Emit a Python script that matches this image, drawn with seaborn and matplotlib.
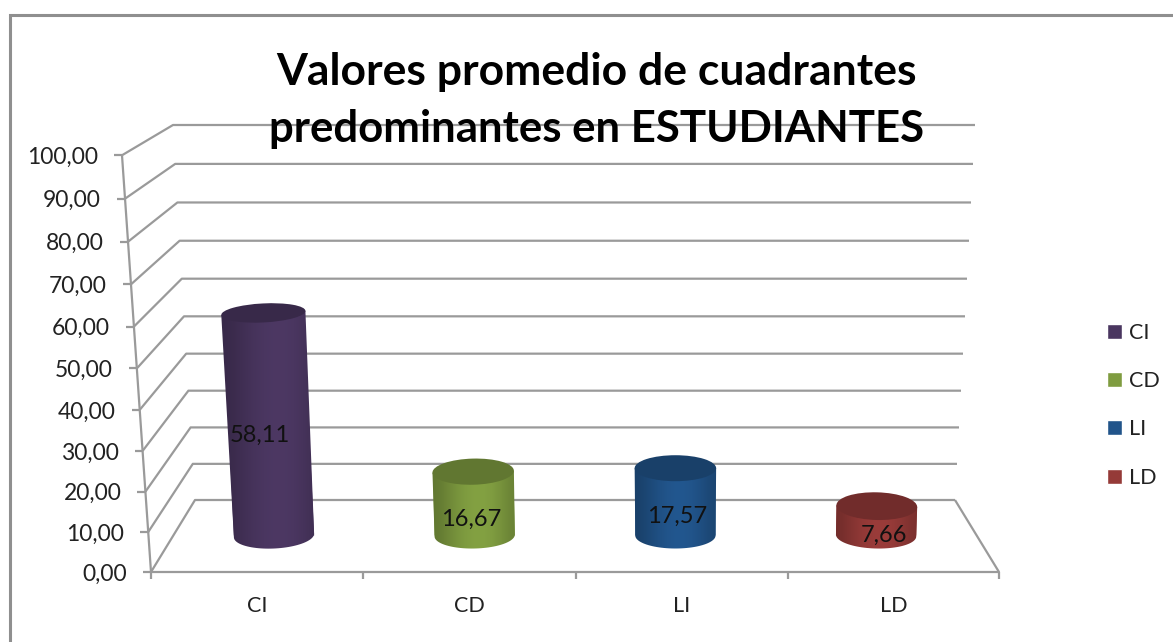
import matplotlib
matplotlib.use("Agg")
import matplotlib.pyplot as plt
import numpy as np
import seaborn as sns
from matplotlib.patches import Ellipse, PathPatch, Rectangle
from matplotlib.path import Path
from matplotlib.transforms import Affine2D

categories = ["CI", "CD", "LI", "LD"]
values = [58.11, 16.67, 17.57, 7.66]
colors = ["#4a3660", "#7f9c40", "#21548a", "#953a38"]
y_ticks = [0, 10, 20, 30, 40, 50, 60, 70, 80, 90, 100]

W, H = 1173, 642
GRID = "#9a9a9a"

sns.set_theme(style="white")
plt.rcParams["font.family"] = ["Lato", "DejaVu Sans"]

fig = plt.figure(figsize=(W / 100, H / 100), dpi=100)
ax = fig.add_axes([0, 0, 1, 1])

# image pixels (y down) -> display
px = Affine2D().scale(1, -1).translate(0, H)


def front_y(v):
    return 572 - 3.98 * v / (1 - 0.00045 * v)


def back_y(v):
    return 500 - 3.6 * v / (1 - 0.0004 * v)


def line(xs, ys, z=1):
    ax.plot(xs, ys, color=GRID, lw=1.6, transform=px, zorder=z, solid_capstyle="butt")


sns.barplot(
    x=categories,
    y=values,
    hue=categories,
    palette=colors,
    width=0.4,
    dodge=False,
    saturation=1,
    legend=True,
    ax=ax,
)

# category 0 sits at pixel 274, categories 200.7 px apart, zero at pixel 535.5
ax.set_xlim(-274 / 200.7, (W - 274) / 200.7)
ax.set_ylim(-(H - 535.5) / 3.83, 535.5 / 3.83)

# walls and floor
for v in y_ticks:
    fy, by = front_y(v), back_y(v)
    fx = 151 - 29 * (572 - fy) / 417
    bx = 195 - 22 * v / 100
    ex = 955 + 20 * v / 100
    line([fx, bx, ex], [fy, by, by])
    line([fx - 8, fx], [fy, fy])
    ax.text(fx - 24, fy + 2, f"{v:.2f}".replace(".", ","), ha="right", va="center",
            fontsize=16.5, color="#222222", transform=px, zorder=6)
line([151, 122], [front_y(0), front_y(100)])
line([151, 999, 955], [front_y(0), front_y(0), back_y(0)])
for x in [151, 363, 576, 788, 999]:
    line([x, x], [front_y(0), front_y(0) + 7])

for i, cat in enumerate(categories):
    ax.text(257 + 212.3 * i, 606, cat, ha="center", va="center", fontsize=15.5,
            color="#222222", transform=px, zorder=6)

# outer chart border, only top and left fall inside the picture
ax.plot([9.5, 9.5, 1200], [700, 15, 15], color="#8f8f8f", lw=2.2, transform=px, zorder=1,
        solid_joinstyle="miter")

# turn the flat bars into cylinders
bars = [p for p in ax.patches if isinstance(p, Rectangle) and p.get_height() > 0][:4]
shade = np.array([0.74, 0.78, 0.85, 0.92, 0.97, 1.0, 1.0, 0.97, 0.91, 0.84, 0.8])
label_pos = [(260, 435), (471, 519), (677, 516), (884, 535)]
top_dark = 0.76

to_disp = ax.transData
for i, bar in enumerate(bars):
    xc = bar.get_x() + bar.get_width() / 2
    x0, y0 = to_disp.transform((xc, 0))
    x1, y1 = to_disp.transform((xc + bar.get_width() / 2, bar.get_height()))
    cx, base = x0, H - y0
    h = y1 - y0
    rx = x1 - x0
    slope = (cx - 676) / 8400
    top_x = cx + slope * h
    top_rx = rx * (1 + 0.00022 * h)
    ry_top = (29 - 0.045 * h) / 2
    ry_base = 13
    angle = slope * 60
    a = np.radians(angle)

    # lean the seaborn bar with the perspective of the chart
    lean = Affine2D().translate(-x0, -y0) + Affine2D.from_values(1, 0, slope, 1, 0, 0) \
        + Affine2D().translate(x0, y0)
    bar.set_transform(ax.transData + lean)
    bar.set_zorder(3)
    bar.set_edgecolor("none")

    t = np.linspace(0, np.pi, 50)
    ex = rx * np.cos(t)
    ey = ry_base * np.sin(t)
    arc_x = cx + ex * np.cos(a) - ey * np.sin(a)
    arc_y = base + ex * np.sin(a) + ey * np.cos(a)
    top_y = base - h
    verts = [(top_x - top_rx * np.cos(a), top_y - top_rx * np.sin(a)),
             (top_x + top_rx * np.cos(a), top_y + top_rx * np.sin(a))]
    verts += list(zip(arc_x, arc_y))
    verts.append(verts[0])
    outline = PathPatch(Path(verts), transform=px, fc="none", ec="none")

    rgb = np.array(matplotlib.colors.to_rgb(colors[i]))
    ramp = np.clip(np.outer(shade, rgb * 1.03), 0, 1)[None, :, :]
    im = ax.imshow(ramp, extent=(cx - rx - abs(slope * h) - 5, cx + rx + abs(slope * h) + 5,
                                 top_y - 30, base + 30),
                   transform=px, aspect="auto", zorder=4, interpolation="bilinear")
    im.set_clip_path(outline)

    ax.add_patch(Ellipse((top_x, top_y), 2 * top_rx, 2 * ry_top, angle=angle,
                         fc=rgb * top_dark, ec="none", transform=px, zorder=5))

    lx, ly = label_pos[i]
    ax.text(lx, ly, f"{values[i]:.2f}".replace(".", ","), ha="center", va="center",
            fontsize=17, color="#111111", transform=px, zorder=6)

ax.set_xlim(-274 / 200.7, (W - 274) / 200.7)
ax.set_ylim(-(H - 535.5) / 3.83, 535.5 / 3.83)
ax.set_axis_off()

leg = ax.legend(
    loc="upper left",
    bbox_to_anchor=(1107 / W, 1 - 323 / H),
    bbox_transform=fig.transFigure,
    frameon=False,
    fontsize=15.5,
    handlelength=0.7,
    handleheight=0.7,
    handletextpad=0.33,
    labelspacing=1.31,
    borderpad=0,
    borderaxespad=0,
    labelcolor="#222222",
)
leg.set_zorder(6)

ax.text(597, 85, "Valores promedio de cuadrantes", ha="center", va="baseline",
        fontsize=32, fontweight="bold", color="black", transform=px, zorder=7)
ax.text(597, 142, "predominantes en ESTUDIANTES", ha="center", va="baseline",
        fontsize=31.5, fontweight="bold", color="black", transform=px, zorder=7)

fig.savefig("out.png", dpi=100)
